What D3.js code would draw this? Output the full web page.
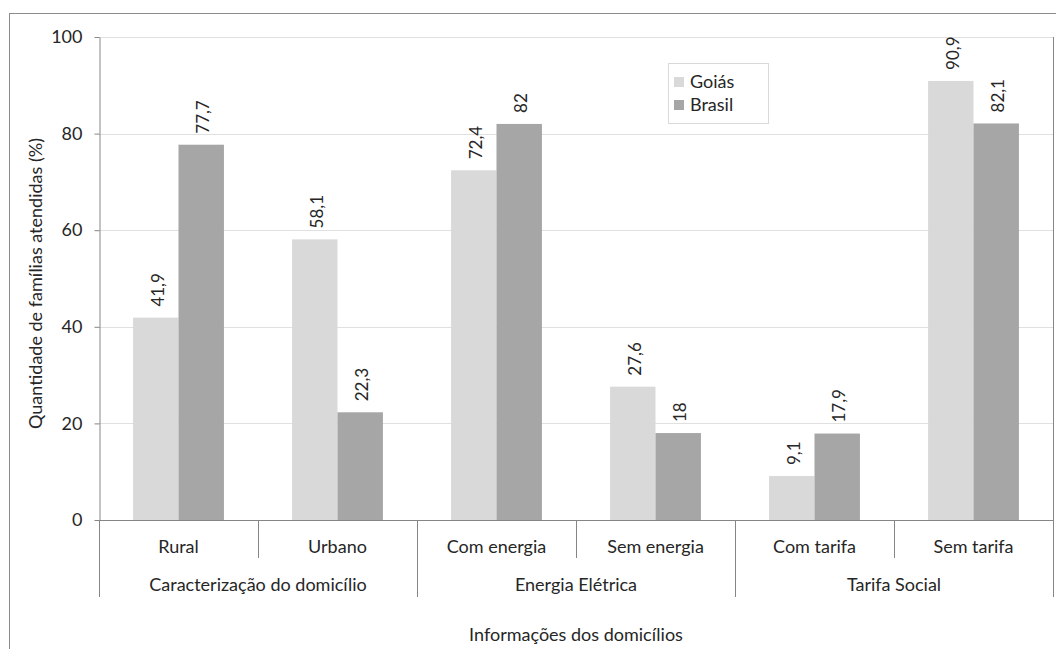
<!DOCTYPE html>
<html>
<head>
<meta charset="utf-8">
<script src="https://cdn.jsdelivr.net/npm/d3@7"></script>
<style>
  body { margin: 0; background: #fff; }
  text { font-family: Lato, "Open Sans", sans-serif; fill: #262626; }
</style>
</head>
<body>
<div id="chart"></div>
<script>
const groups = ["Caracterização do domicílio", "Energia Elétrica", "Tarifa Social"];
const categories = ["Rural", "Urbano", "Com energia", "Sem energia", "Com tarifa", "Sem tarifa"];
const series = ["Goiás", "Brasil"];
const goias = [41.9, 58.1, 72.4, 27.6, 9.1, 90.9];
const brasil = [77.7, 22.3, 82, 18, 17.9, 82.1];
const yTicks = [0, 20, 40, 60, 80, 100];

const width = 1056, height = 649;
const margin = { top: 37, right: 3, bottom: 129, left: 99 };
const colors = ["#d9d9d9", "#a6a6a6"];
const fs = 18;
const fmt = v => String(v).replace(".", ",");

const svg = d3.select("#chart").append("svg")
    .attr("width", width)
    .attr("height", height);

// outer chart frame
svg.append("rect")
    .attr("x", 9.5).attr("y", 13.5)
    .attr("width", width).attr("height", height)
    .attr("fill", "none").attr("stroke", "#8c8c8c");

const x0 = d3.scaleBand()
    .domain(categories)
    .range([margin.left, width - margin.right])
    .paddingInner(0).paddingOuter(0);

const x1 = d3.scaleBand()
    .domain(series)
    .range([0, x0.bandwidth()])
    .paddingOuter(0.75).paddingInner(0);

const y = d3.scaleLinear()
    .domain([0, 100])
    .range([height - margin.bottom, margin.top]);

const y0 = y(0);

// gridlines
svg.append("g").selectAll("line")
    .data(yTicks.filter(d => d > 0))
    .join("line")
    .attr("x1", margin.left).attr("x2", width - margin.right)
    .attr("y1", d => Math.round(y(d)) + 0.5).attr("y2", d => Math.round(y(d)) + 0.5)
    .attr("stroke", "#e0e0e0");

// bars
const data = categories.map((c, i) => ({ cat: c, values: [goias[i], brasil[i]] }));
const catG = svg.append("g").selectAll("g")
    .data(data)
    .join("g")
    .attr("transform", d => `translate(${x0(d.cat)},0)`);

catG.selectAll("rect")
    .data(d => d.values.map((v, j) => ({ s: series[j], v, j })))
    .join("rect")
    .attr("x", d => x1(d.s))
    .attr("y", d => y(d.v))
    .attr("width", x1.bandwidth())
    .attr("height", d => y0 - y(d.v))
    .attr("fill", d => colors[d.j]);

catG.selectAll("text.val")
    .data(d => d.values.map((v, j) => ({ s: series[j], v, j })))
    .join("text")
    .attr("class", "val")
    .attr("transform", d => `translate(${x1(d.s) + x1.bandwidth() / 2 + 8},${y(d.v) - 11}) rotate(-90)`)
    .attr("font-size", 17)
    .attr("text-anchor", "start")
    .text(d => fmt(d.v));

// y axis
const yAxis = svg.append("g")
    .attr("transform", `translate(${margin.left + 0.5},0)`)
    .call(d3.axisLeft(y).tickValues(yTicks).tickSize(5).tickPadding(12).tickSizeOuter(0));
yAxis.select(".domain").attr("stroke", "#868686");
yAxis.selectAll(".tick line").attr("stroke", "#868686");
yAxis.selectAll(".tick text").attr("font-size", fs).attr("fill", "#262626")
    .style("font-family", "Lato, 'Open Sans', sans-serif");

// x axis line
svg.append("line")
    .attr("x1", margin.left).attr("x2", width - margin.right)
    .attr("y1", Math.round(y0) + 0.5).attr("y2", Math.round(y0) + 0.5)
    .attr("stroke", "#868686");

// category dividers
const edges = categories.map(c => x0(c)).concat([x0.range()[1]]);
svg.append("g").selectAll("line")
    .data(edges)
    .join("line")
    .attr("x1", d => Math.round(d) + 0.5).attr("x2", d => Math.round(d) + 0.5)
    .attr("y1", (d, i) => (i === edges.length - 1) ? margin.top : y0)
    .attr("y2", (d, i) => (i % 2 === 0) ? y0 + 77 : y0 + 38)
    .attr("stroke", "#868686");

// category labels
svg.append("g").selectAll("text")
    .data(categories)
    .join("text")
    .attr("x", d => x0(d) + x0.bandwidth() / 2)
    .attr("y", y0 + 33)
    .attr("text-anchor", "middle")
    .attr("font-size", fs)
    .text(d => d);

// group labels
svg.append("g").selectAll("text")
    .data(groups)
    .join("text")
    .attr("x", (d, i) => x0(categories[i * 2]) + x0.bandwidth())
    .attr("y", y0 + 71)
    .attr("text-anchor", "middle")
    .attr("font-size", fs)
    .text(d => d);

// axis titles
svg.append("text")
    .attr("x", (margin.left + width - margin.right) / 2)
    .attr("y", 641)
    .attr("text-anchor", "middle")
    .attr("font-size", fs)
    .text("Informações dos domicílios");

svg.append("text")
    .attr("transform", `translate(42,${(margin.top + y0) / 2 + 5}) rotate(-90)`)
    .attr("text-anchor", "middle")
    .attr("font-size", fs)
    .text("Quantidade de famílias atendidas (%)");

// legend
const legend = svg.append("g").attr("transform", "translate(668,63)");
legend.append("rect")
    .attr("x", 0.5).attr("y", 0.5)
    .attr("width", 100).attr("height", 60)
    .attr("fill", "#fff").attr("stroke", "#d9d9d9");
const li = legend.selectAll("g")
    .data(series)
    .join("g")
    .attr("transform", (d, i) => `translate(0,${19 + i * 23})`);
li.append("rect")
    .attr("x", 6).attr("y", -5)
    .attr("width", 10).attr("height", 10)
    .attr("fill", (d, i) => colors[i]);
li.append("text")
    .attr("x", 22).attr("y", 6)
    .attr("font-size", fs)
    .text(d => d);
</script>
</body>
</html>
